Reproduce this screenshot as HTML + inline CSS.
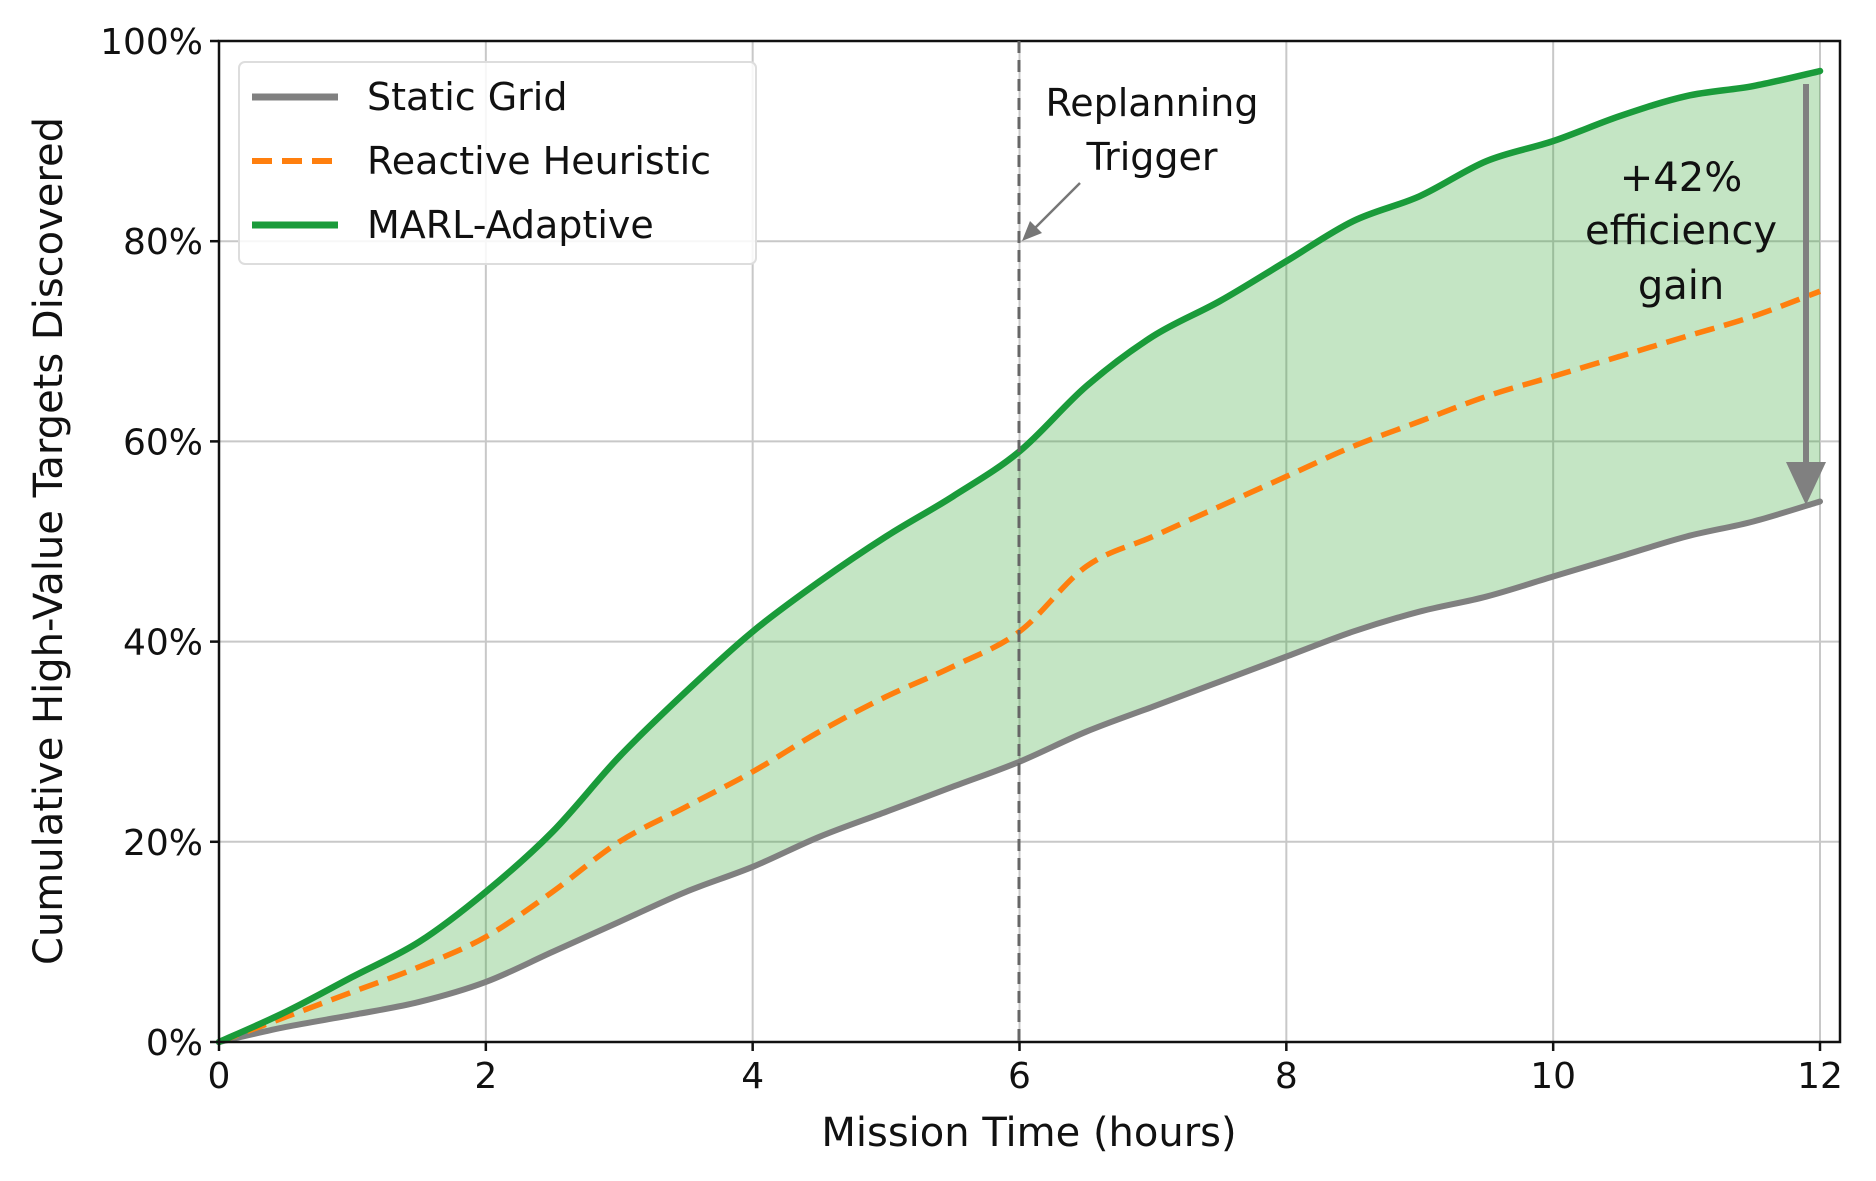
<!DOCTYPE html>
<html><head><meta charset="utf-8"><style>
html,body{margin:0;padding:0;background:#fff;}
svg{display:block;font-family:"DejaVu Sans","Liberation Sans",sans-serif;}
</style></head><body>
<svg id="chart" width="1876" height="1181" viewBox="0 0 1876 1181" xmlns="http://www.w3.org/2000/svg">
<rect width="1876" height="1181" fill="#fff"/>
<g id="grid"></g>
<g id="fill"></g>
<g id="series"></g>
<g id="axes"></g>
<line x1="1019" y1="41" x2="1019" y2="1042" stroke="#666" stroke-width="3" stroke-dasharray="12,7"/>
<text x="1152" y="116" font-size="38" text-anchor="middle" fill="#111">Replanning</text>
<text x="1152" y="170" font-size="38" text-anchor="middle" fill="#111">Trigger</text>
<line x1="1080" y1="183" x2="1030" y2="233" stroke="#777" stroke-width="2.5"/>
<polygon points="1022,241 1030,221 1042,233" fill="#777"/>
<text x="1681" y="191" font-size="40" text-anchor="middle" fill="#111">+42%</text>
<text x="1681" y="244" font-size="40" text-anchor="middle" fill="#111">efficiency</text>
<text x="1681" y="299" font-size="40" text-anchor="middle" fill="#111">gain</text>
<line x1="1806" y1="84" x2="1806" y2="470" stroke="#808080" stroke-width="6"/>
<polygon points="1786,462 1826,462 1806,505" fill="#808080"/>
<g>
<rect x="239" y="62" width="517" height="202" rx="6" fill="#fff" fill-opacity="0.85" stroke="#ddd" stroke-width="2"/>
<line x1="252" y1="97" x2="338" y2="97" stroke="#808080" stroke-width="7"/>
<text x="367" y="110" font-size="38" fill="#111">Static Grid</text>
<line x1="252" y1="161" x2="338" y2="161" stroke="#ff7f0e" stroke-width="6" stroke-dasharray="20,10"/>
<text x="367" y="174" font-size="38" fill="#111">Reactive Heuristic</text>
<line x1="252" y1="225" x2="338" y2="225" stroke="#1a9b3a" stroke-width="7"/>
<text x="367" y="238" font-size="38" fill="#111">MARL-Adaptive</text>
</g>
<text x="1029" y="1146" font-size="40" text-anchor="middle" fill="#111">Mission Time (hours)</text>
<text transform="translate(62,541) rotate(-90)" font-size="40" text-anchor="middle" fill="#111">Cumulative High-Value Targets Discovered</text>
</svg>
<script>
const hours=[0,0.5,1,1.5,2,2.5,3,3.5,4,4.5,5,5.5,6,6.5,7,7.5,8,8.5,9,9.5,10,10.5,11,11.5,12];
const marlValues=[0,3,6.5,10,15,21,28.5,35,41,46,50.5,54.5,59,65.5,70.5,74,78,82,84.5,88,90,92.5,94.5,95.5,97];
const reactiveValues=[0,2.5,5,7.5,10.5,15,20,23.5,27,31,34.5,37.5,41,47.5,50.5,53.5,56.5,59.5,62,64.5,66.5,68.5,70.5,72.5,75];
const staticValues=[0,1.5,2.7,4,6,9,12,15,17.5,20.5,23,25.5,28,31,33.5,36,38.5,41,43,44.5,46.5,48.5,50.5,52,54];
const xTicks=[0,2,4,6,8,10,12];
const yTicks=[0,20,40,60,80,100];
const NS="http://www.w3.org/2000/svg";
const X0=219,X1=1820,Y0=1042,Y1=41,RIGHT=1840;
function xs(v){return X0+(X1-X0)*v/12;}
function ys(v){return Y0-(Y0-Y1)*v/100;}
function mk(tag,attrs,parent){const e=document.createElementNS(NS,tag);for(const k in attrs)e.setAttribute(k,attrs[k]);parent.appendChild(e);return e;}
function curve(p){let d="";
for(let i=0;i<p.length-1;i++){const a=p[Math.max(i-1,0)],b=p[i],c=p[i+1],e=p[Math.min(i+2,p.length-1)];
d+=" C"+(b[0]+(c[0]-a[0])/6)+","+(b[1]+(c[1]-a[1])/6)+" "+(c[0]-(e[0]-b[0])/6)+","+(c[1]-(e[1]-b[1])/6)+" "+c[0]+","+c[1];}return d;}
function pathD(vals){const p=hours.map((h,i)=>[xs(h),ys(vals[i])]);return "M"+p[0][0]+","+p[0][1]+curve(p);}
const gridG=document.getElementById('grid'),axesG=document.getElementById('axes');
xTicks.forEach(t=>{const l=mk('line',{x1:xs(t),x2:xs(t),y1:Y1,y2:Y0,stroke:'#c8c8c8','stroke-width':2},gridG);


mk('line',{x1:xs(t),x2:xs(t),y1:Y0,y2:Y0+9,stroke:'#111','stroke-width':2.5},axesG);
const tx=mk('text',{x:xs(t),y:Y0+46,'font-size':36,'text-anchor':'middle',fill:'#111'},axesG);tx.textContent=t;

});
yTicks.forEach(t=>{const l=mk('line',{x1:X0,x2:RIGHT,y1:ys(t),y2:ys(t),stroke:'#c8c8c8','stroke-width':2},gridG);


mk('line',{x1:X0-9,x2:X0,y1:ys(t),y2:ys(t),stroke:'#111','stroke-width':2.5},axesG);
const tx=mk('text',{x:X0-16,y:ys(t)+13,'font-size':36,'text-anchor':'end',fill:'#111'},axesG);tx.textContent=t+'%';

});
mk('rect',{x:X0,y:Y1,width:RIGHT-X0,height:Y0-Y1,fill:'none',stroke:'#111','stroke-width':2.5},axesG);
const topD=pathD(marlValues);
const bp=hours.map((h,i)=>[xs(h),ys(staticValues[i])]).reverse();
const f=mk('path',{d:topD+" L"+bp[0][0]+","+bp[0][1]+curve(bp)+" Z",fill:'#2ca02c','fill-opacity':0.28,stroke:'none'},document.getElementById('fill'));


const s=document.getElementById('series');
const g1=mk('path',{d:pathD(staticValues),fill:'none',stroke:'#808080','stroke-width':6,'stroke-linecap':'round'},s);


const g2=mk('path',{d:pathD(reactiveValues),fill:'none',stroke:'#ff7f0e','stroke-width':5.5,'stroke-dasharray':'20,10'},s);


const g3=mk('path',{d:pathD(marlValues),fill:'none',stroke:'#1a9b3a','stroke-width':6.5,'stroke-linecap':'round'},s);


</script>
</body></html>
